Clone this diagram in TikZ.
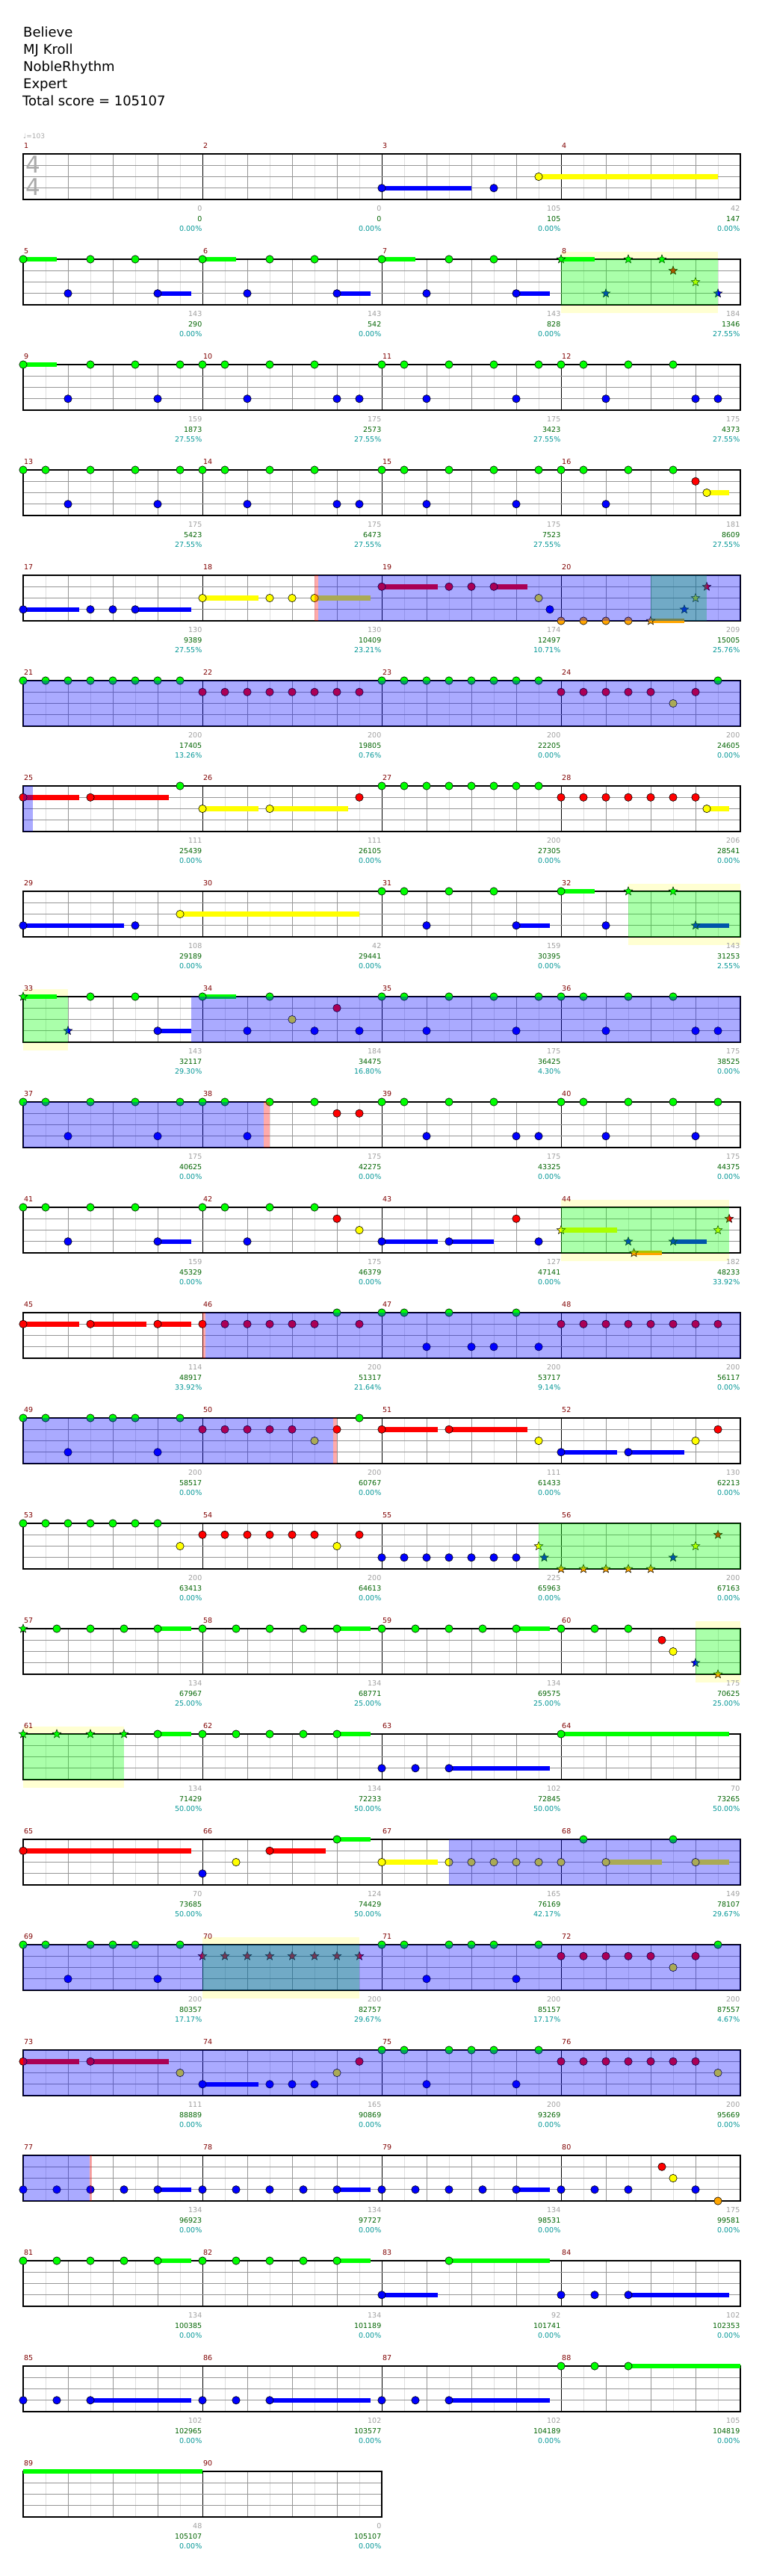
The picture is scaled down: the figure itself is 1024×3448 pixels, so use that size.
\documentclass[tikz,border=0pt]{standalone}
\usepackage{fontspec}
\setmainfont{DejaVu Sans}
\usepackage{tikz}
\usetikzlibrary{shapes.geometric}
\pgfdeclarelayer{bg}
\pgfsetlayers{bg,main}
\definecolor{lane0}{RGB}{0,255,0}
\definecolor{lane1}{RGB}{255,0,0}
\definecolor{lane2}{RGB}{255,255,0}
\definecolor{lane3}{RGB}{0,0,255}
\definecolor{lane4}{RGB}{255,165,0}
\definecolor{bandcol}{RGB}{255,255,210}
\definecolor{beatcol}{RGB}{150,150,150}
\definecolor{halfcol}{RGB}{222,222,222}
\definecolor{mnumcol}{RGB}{128,0,0}
\definecolor{graycol}{RGB}{160,160,160}
\definecolor{scorecol}{RGB}{0,100,0}
\definecolor{pctcol}{RGB}{0,150,150}
\definecolor{tsgray}{RGB}{170,170,170}

% row r: staff top at 206+141*(r-1), lane k at +15.25*k, eighth p at 31+30*p
\newcommand{\staff}[2]{%
  \pgfmathsetmacro{\stY}{206+141*(#1-1)}%
  \pgfmathsetmacro{\stX}{31+240*#2}%
  \pgfmathtruncatemacro{\stLast}{8*#2-1}%
  \pgfmathtruncatemacro{\stMid}{#2-1}%
  \fill[white] (31,\stY) rectangle (\stX,{\stY+61});
  \foreach \i in {1,3,...,\stLast} {\draw[halfline] ({31+30*\i},\stY) -- ++(0,61);}
  \foreach \i in {2,4,...,\stLast} {\draw[beatline] ({31+30*\i},\stY) -- ++(0,61);}
  \foreach \m in {1,...,\stMid} {\draw[barline] ({31+240*\m},\stY) -- ++(0,61);}
  \foreach \k in {1,2,3} {\draw[stringline] (31,{\stY+15.25*\k}) -- (\stX,{\stY+15.25*\k});}
  \draw[staffbox] (31,\stY) rectangle (\stX,{\stY+61});
}
\newcommand{\nhead}[3]{\draw[nhd, fill=lane#3] ({31+30*#2},{206+141*(#1-1)+15.25*#3}) circle[radius=5.2];}
\newcommand{\nstar}[3]{\node[nst, fill=lane#3] at ({31+30*#2},{206+141*(#1-1)+15.25*#3}) {};}
\newcommand{\nbar}[4]{\fill[lane#4] ({31+30*#2},{206+141*(#1-1)+15.25*#4-3.25}) rectangle ({31+30*#3},{206+141*(#1-1)+15.25*#4+3.25});}
\newcommand{\spzone}[4]{%
  \ifnum#4=1 \begin{pgfonlayer}{bg}\fill[bandcol] ({31+30*#2},{206+141*(#1-1)-10.5}) rectangle ({31+30*#3},{206+141*(#1-1)+71.5});\end{pgfonlayer}\fi
  \fill[spfill] ({31+30*#2},{206+141*(#1-1)}) rectangle ({31+30*#3},{206+141*(#1-1)+61});}
\newcommand{\odzone}[3]{\fill[odfill] ({31+30*#2},{206+141*(#1-1)}) rectangle ({31+30*#3},{206+141*(#1-1)+61});}
\newcommand{\actmark}[3]{\fill[actfill] ({31+30*#2},{206+141*(#1-1)}) rectangle ({31+30*#3},{206+141*(#1-1)+61});}

\begin{document}
\begin{tikzpicture}[x=1pt, y=-1pt,
    halfline/.style={draw=halfcol, line width=0.8pt},
    beatline/.style={draw=beatcol, line width=0.8pt},
    barline/.style={draw=black, line width=0.9pt},
    stringline/.style={draw=beatcol, line width=1.2pt},
    staffbox/.style={draw=black, line width=1.2pt},
    nhd/.style={draw=black, line width=0.6pt},
    nst/.style={star, star points=5, star point ratio=2.3, minimum size=12pt, inner sep=0pt, draw=black, line width=0.5pt},
    spfill/.style={fill=lane0, fill opacity=0.333},
    odfill/.style={fill=lane3, fill opacity=0.333},
    actfill/.style={fill=lane1, fill opacity=0.333},
    title/.style={anchor=base west, inner sep=0pt, font=\fontsize{18}{20}\selectfont},
    mnum/.style={anchor=base west, inner sep=0pt, text=mnumcol, font=\fontsize{9.5}{11}\selectfont},
    lgray/.style={anchor=base east, inner sep=0pt, text=graycol, font=\fontsize{9.5}{11}\selectfont},
    lscore/.style={anchor=base east, inner sep=0pt, text=scorecol, font=\fontsize{9.5}{11}\selectfont},
    lpct/.style={anchor=base east, inner sep=0pt, text=pctcol, font=\fontsize{9.5}{11}\selectfont},
]
\begin{pgfonlayer}{bg}
  \fill[white] (0,0) rectangle (1024,3448);
\end{pgfonlayer}
\useasboundingbox (0,0) rectangle (1024,3448);

% header
\node[title] (song) at (31,49) {Believe};
\node[title] (artist) at (31,72) {MJ Kroll};
\node[title] (charter) at (31,95) {NobleRhythm};
\node[title] (level) at (31,118) {Expert};
\node[title] (total) at (30,141) {Total score = 105107};
\node[anchor=base west, inner sep=0pt, text=tsgray, font=\fontsize{9}{10}\selectfont] (tempo) at (31,185) {♩=103};

% staves
\foreach \r in {1,...,22} {\staff{\r}{4}}
\staff{23}{2}
\node[text=tsgray, inner sep=0pt, font=\fontsize{31}{31}\selectfont] (tsup) at (44,220.5) {4};
\node[text=tsgray, inner sep=0pt, font=\fontsize{31}{31}\selectfont] (tsdown) at (44,250.5) {4};

% measure numbers
\foreach \r in {1,...,23} {
  \pgfmathtruncatemacro{\nk}{\r==23 ? 2 : 4}
  \foreach \k in {1,...,\nk} {
    \pgfmathtruncatemacro{\mn}{4*(\r-1)+\k}
    \node[mnum] at ({32+240*(\k-1)},{206+141*(\r-1)-8}) {\mn};
  }
}

% measure scores
\foreach \vr/\vk/\va/\vb/\vc in {
  1/1/0/0/0.00, 1/2/0/0/0.00, 1/3/105/105/0.00, 1/4/42/147/0.00,
  2/1/143/290/0.00, 2/2/143/542/0.00, 2/3/143/828/0.00, 2/4/184/1346/27.55,
  3/1/159/1873/27.55, 3/2/175/2573/27.55, 3/3/175/3423/27.55, 3/4/175/4373/27.55,
  4/1/175/5423/27.55, 4/2/175/6473/27.55, 4/3/175/7523/27.55, 4/4/181/8609/27.55,
  5/1/130/9389/27.55, 5/2/130/10409/23.21, 5/3/174/12497/10.71, 5/4/209/15005/25.76,
  6/1/200/17405/13.26, 6/2/200/19805/0.76, 6/3/200/22205/0.00, 6/4/200/24605/0.00,
  7/1/111/25439/0.00, 7/2/111/26105/0.00, 7/3/200/27305/0.00, 7/4/206/28541/0.00,
  8/1/108/29189/0.00, 8/2/42/29441/0.00, 8/3/159/30395/0.00, 8/4/143/31253/2.55,
  9/1/143/32117/29.30, 9/2/184/34475/16.80, 9/3/175/36425/4.30, 9/4/175/38525/0.00,
  10/1/175/40625/0.00, 10/2/175/42275/0.00, 10/3/175/43325/0.00, 10/4/175/44375/0.00,
  11/1/159/45329/0.00, 11/2/175/46379/0.00, 11/3/127/47141/0.00, 11/4/182/48233/33.92,
  12/1/114/48917/33.92, 12/2/200/51317/21.64, 12/3/200/53717/9.14, 12/4/200/56117/0.00,
  13/1/200/58517/0.00, 13/2/200/60767/0.00, 13/3/111/61433/0.00, 13/4/130/62213/0.00,
  14/1/200/63413/0.00, 14/2/200/64613/0.00, 14/3/225/65963/0.00, 14/4/200/67163/0.00,
  15/1/134/67967/25.00, 15/2/134/68771/25.00, 15/3/134/69575/25.00, 15/4/175/70625/25.00,
  16/1/134/71429/50.00, 16/2/134/72233/50.00, 16/3/102/72845/50.00, 16/4/70/73265/50.00,
  17/1/70/73685/50.00, 17/2/124/74429/50.00, 17/3/165/76169/42.17, 17/4/149/78107/29.67,
  18/1/200/80357/17.17, 18/2/200/82757/29.67, 18/3/200/85157/17.17, 18/4/200/87557/4.67,
  19/1/111/88889/0.00, 19/2/165/90869/0.00, 19/3/200/93269/0.00, 19/4/200/95669/0.00,
  20/1/134/96923/0.00, 20/2/134/97727/0.00, 20/3/134/98531/0.00, 20/4/175/99581/0.00,
  21/1/134/100385/0.00, 21/2/134/101189/0.00, 21/3/92/101741/0.00, 21/4/102/102353/0.00,
  22/1/102/102965/0.00, 22/2/102/103577/0.00, 22/3/102/104189/0.00, 22/4/105/104819/0.00,
  23/1/48/105107/0.00, 23/2/0/105107/0.00} {
  \node[lgray] at ({31+240*\vk-0.5},{267+141*(\vr-1)+15.5}) {\va};
  \node[lscore] at ({31+240*\vk-0.5},{267+141*(\vr-1)+29.5}) {\vb};
  \node[lpct] at ({31+240*\vk-0.5},{267+141*(\vr-1)+42.5}) {\vc\%};
}

% row 1 (1-4)
\foreach \va/\vb/\vc in {16/20/3, 23/31/2} {\nbar{1}{\va}{\vb}{\vc}}
\foreach \va/\vb in {16/3, 21/3, 23/2} {\nhead{1}{\va}{\vb}}

% row 2 (5-8)
\foreach \va/\vb/\vc in {0/1.5/0, 8/9.5/0, 16/17.5/0, 24/25.5/0, 6/7.5/3, 14/15.5/3, 22/23.5/3} {\nbar{2}{\va}{\vb}{\vc}}
\foreach \va/\vb in {0/0, 3/0, 5/0, 8/0, 11/0, 13/0, 16/0, 19/0, 21/0, 2/3, 6/3, 10/3, 14/3, 18/3, 22/3} {\nhead{2}{\va}{\vb}}
\foreach \va/\vb in {24/0, 27/0, 28.5/0, 29/1, 30/2, 26/3, 31/3} {\nstar{2}{\va}{\vb}}
\spzone{2}{24}{31}{1}

% row 3 (9-12)
\nbar{3}{0}{1.5}{0}
\foreach \va in {0,3,5,7,8,9,11,13,16,17,19,21,23,24,25,27,29} {\nhead{3}{\va}{0}}
\foreach \va in {2,6,10,14,15,18,22,26,30,31} {\nhead{3}{\va}{3}}

% row 4 (13-16)
\nbar{4}{30.5}{31.5}{2}
\foreach \va in {0,1,3,5,7,8,9,11,13,16,17,19,21,23,24,25,27,29} {\nhead{4}{\va}{0}}
\foreach \va in {2,6,10,14,15,18,22,26} {\nhead{4}{\va}{3}}
\nhead{4}{30}{1}
\nhead{4}{30.5}{2}

% row 5 (17-20)
\foreach \va/\vb/\vc in {0/2.5/3, 5/7.5/3, 8/10.5/2, 13/15.5/2, 16/18.5/1, 21/22.5/1, 28/29.5/4} {\nbar{5}{\va}{\vb}{\vc}}
\foreach \va/\vb in {0/3, 3/3, 4/3, 5/3, 8/2, 11/2, 12/2, 13/2, 16/1, 19/1, 20/1, 21/1, 23/2, 23.5/3, 24/4, 25/4, 26/4, 27/4} {\nhead{5}{\va}{\vb}}
\foreach \va/\vb in {28/4, 29.5/3, 30/2, 30.5/1} {\nstar{5}{\va}{\vb}}
\spzone{5}{28}{30.5}{0}
\actmark{5}{13}{13.17}
\odzone{5}{13.17}{32}

% row 6 (21-24)
\foreach \va in {0,1,2,3,4,5,6,7,16,17,18,19,20,21,22,23,31} {\nhead{6}{\va}{0}}
\foreach \va in {8,9,10,11,12,13,14,15,24,25,26,27,28,30} {\nhead{6}{\va}{1}}
\nhead{6}{29}{2}
\odzone{6}{0}{32}

% row 7 (25-28)
\foreach \va/\vb/\vc in {0/2.5/1, 3/6.5/1, 8/10.5/2, 11/14.5/2, 30.5/31.5/2} {\nbar{7}{\va}{\vb}{\vc}}
\foreach \va in {0,3,15,24,25,26,27,28,29,30} {\nhead{7}{\va}{1}}
\foreach \va in {7,16,17,18,19,20,21,22,23} {\nhead{7}{\va}{0}}
\foreach \va in {8,11,30.5} {\nhead{7}{\va}{2}}
\odzone{7}{0}{0.43}

% row 8 (29-32)
\foreach \va/\vb/\vc in {0/4.5/3, 7/15/2, 24/25.5/0, 22/23.5/3, 30/31.5/3} {\nbar{8}{\va}{\vb}{\vc}}
\foreach \va/\vb in {0/3, 5/3, 18/3, 22/3, 26/3, 7/2, 16/0, 17/0, 19/0, 21/0, 24/0} {\nhead{8}{\va}{\vb}}
\foreach \va/\vb in {27/0, 29/0, 30/3} {\nstar{8}{\va}{\vb}}
\spzone{8}{27}{32}{1}

% row 9 (33-36)
\foreach \va/\vb/\vc in {0/1.5/0, 6/7.5/3, 8/9.5/0} {\nbar{9}{\va}{\vb}{\vc}}
\foreach \va in {3,5,8,11,16,17,19,21,23,24,25,27,29} {\nhead{9}{\va}{0}}
\foreach \va in {6,10,13,15,18,22,26,30,31} {\nhead{9}{\va}{3}}
\nhead{9}{12}{2}
\nhead{9}{14}{1}
\foreach \va/\vb in {0/0, 2/3} {\nstar{9}{\va}{\vb}}
\spzone{9}{0}{2}{1}
\odzone{9}{7.5}{32}

% row 10 (37-40)
\foreach \va in {0,1,3,5,7,8,9,11,13,16,17,19,21,24,25,27,29,31} {\nhead{10}{\va}{0}}
\foreach \va in {2,6,10,18,22,23,26,30} {\nhead{10}{\va}{3}}
\foreach \va in {14,15} {\nhead{10}{\va}{1}}
\odzone{10}{0}{10.73}
\actmark{10}{10.73}{11}

% row 11 (41-44)
\foreach \va/\vb/\vc in {6/7.5/3, 16/18.5/3, 19/21/3, 24/26.5/2, 27.25/28.5/4, 29/30.5/3} {\nbar{11}{\va}{\vb}{\vc}}
\foreach \va in {0,1,3,5,8,9,11,13} {\nhead{11}{\va}{0}}
\foreach \va in {2,6,10,16,19,23} {\nhead{11}{\va}{3}}
\foreach \va/\vb in {14/1, 22/1, 15/2} {\nhead{11}{\va}{\vb}}
\foreach \va/\vb in {24/2, 27/3, 27.25/4, 29/3, 31/2, 31.5/1} {\nstar{11}{\va}{\vb}}
\spzone{11}{24}{31.5}{1}

% row 12 (45-48)
\foreach \va/\vb/\vc in {0/2.5/1, 3/5.5/1, 6/7.5/1} {\nbar{12}{\va}{\vb}{\vc}}
\foreach \va in {0,3,6,8,9,10,11,12,13,15,24,25,26,27,28,29,30,31} {\nhead{12}{\va}{1}}
\foreach \va in {14,16,17,19,22} {\nhead{12}{\va}{0}}
\foreach \va in {18,20,21,23} {\nhead{12}{\va}{3}}
\actmark{12}{8}{8.13}
\odzone{12}{8.13}{32}

% row 13 (49-52)
\foreach \va/\vb/\vc in {16/18.5/1, 19/22.5/1, 24/26.5/3, 27/29.5/3} {\nbar{13}{\va}{\vb}{\vc}}
\foreach \va in {0,1,3,4,5,7,15} {\nhead{13}{\va}{0}}
\foreach \va in {2,6,24,27} {\nhead{13}{\va}{3}}
\foreach \va in {8,9,10,11,12,14,16,19,31} {\nhead{13}{\va}{1}}
\foreach \va in {13,23,30} {\nhead{13}{\va}{2}}
\odzone{13}{0}{13.83}
\actmark{13}{13.83}{14}

% row 14 (53-56)
\foreach \va in {0,1,2,3,4,5,6} {\nhead{14}{\va}{0}}
\foreach \va in {7,14} {\nhead{14}{\va}{2}}
\foreach \va in {8,9,10,11,12,13,15} {\nhead{14}{\va}{1}}
\foreach \va in {16,17,18,19,20,21,22} {\nhead{14}{\va}{3}}
\foreach \va/\vb in {23/2, 23.25/3, 24/4, 25/4, 26/4, 27/4, 28/4, 29/3, 30/2, 31/1} {\nstar{14}{\va}{\vb}}
\spzone{14}{23}{32}{0}

% row 15 (57-60)
\foreach \va/\vb/\vc in {6/7.5/0, 14/15.5/0, 22/23.5/0} {\nbar{15}{\va}{\vb}{\vc}}
\foreach \va in {1.5,3,4.5,6,8,9.5,11,12.5,14,16,17.5,19,20.5,22,24,25.5,27} {\nhead{15}{\va}{0}}
\nhead{15}{28.5}{1}
\nhead{15}{29}{2}
\foreach \va/\vb in {0/0, 30/3, 31/4} {\nstar{15}{\va}{\vb}}
\spzone{15}{30}{32}{1}

% row 16 (61-64)
\foreach \va/\vb/\vc in {6/7.5/0, 14/15.5/0, 19/23.5/3, 24/31.5/0} {\nbar{16}{\va}{\vb}{\vc}}
\foreach \va in {6,8,9.5,11,12.5,14,24} {\nhead{16}{\va}{0}}
\foreach \va in {16,17.5,19} {\nhead{16}{\va}{3}}
\foreach \va in {0,1.5,3,4.5} {\nstar{16}{\va}{0}}
\spzone{16}{0}{4.5}{1}

% row 17 (65-68)
\foreach \va/\vb/\vc in {0/7.5/1, 11/13.5/1, 14/15.5/0, 16/18.5/2, 26/28.5/2, 30/31.5/2} {\nbar{17}{\va}{\vb}{\vc}}
\foreach \va/\vb in {0/1, 11/1, 8/3, 14/0, 25/0, 29/0} {\nhead{17}{\va}{\vb}}
\foreach \va in {9.5,16,19,20,21,22,23,24,26,30} {\nhead{17}{\va}{2}}
\odzone{17}{19}{32}

% row 18 (69-72)
\foreach \va in {0,1,3,4,5,7,16,17,19,20,21,23,31} {\nhead{18}{\va}{0}}
\foreach \va in {2,6,18,22} {\nhead{18}{\va}{3}}
\foreach \va in {24,25,26,27,28,30} {\nhead{18}{\va}{1}}
\nhead{18}{29}{2}
\foreach \va in {8,9,10,11,12,13,14,15} {\nstar{18}{\va}{1}}
\spzone{18}{8}{15}{1}
\odzone{18}{0}{32}

% row 19 (73-76)
\foreach \va/\vb/\vc in {0/2.5/1, 3/6.5/1, 8/10.5/3} {\nbar{19}{\va}{\vb}{\vc}}
\foreach \va in {0,3,15,24,25,26,27,28,29,30} {\nhead{19}{\va}{1}}
\foreach \va in {7,14,31} {\nhead{19}{\va}{2}}
\foreach \va in {8,11,12,13,18,22} {\nhead{19}{\va}{3}}
\foreach \va in {16,17,19,20,21,23} {\nhead{19}{\va}{0}}
\odzone{19}{0}{32}

% row 20 (77-80)
\foreach \va/\vb/\vc in {6/7.5/3, 14/15.5/3, 22/23.5/3} {\nbar{20}{\va}{\vb}{\vc}}
\foreach \va in {0,1.5,3,4.5,6,8,9.5,11,12.5,14,16,17.5,19,20.5,22,24,25.5,27,30} {\nhead{20}{\va}{3}}
\foreach \va/\vb in {28.5/1, 29/2, 31/4} {\nhead{20}{\va}{\vb}}
\odzone{20}{0}{2.95}
\actmark{20}{2.95}{3.05}

% row 21 (81-84)
\foreach \va/\vb/\vc in {6/7.5/0, 14/15.5/0, 16/18.5/3, 19/23.5/0, 27/31.5/3} {\nbar{21}{\va}{\vb}{\vc}}
\foreach \va in {0,1.5,3,4.5,6,8,9.5,11,12.5,14,19} {\nhead{21}{\va}{0}}
\foreach \va in {16,24,25.5,27} {\nhead{21}{\va}{3}}

% row 22 (85-88)
\foreach \va/\vb/\vc in {3/7.5/3, 11/15.5/3, 19/23.5/3, 27/32/0} {\nbar{22}{\va}{\vb}{\vc}}
\foreach \va in {0,1.5,3,8,9.5,11,16,17.5,19} {\nhead{22}{\va}{3}}
\foreach \va in {24,25.5,27} {\nhead{22}{\va}{0}}

% row 23 (89-90)
\nbar{23}{0}{8}{0}
\end{tikzpicture}
\end{document}
